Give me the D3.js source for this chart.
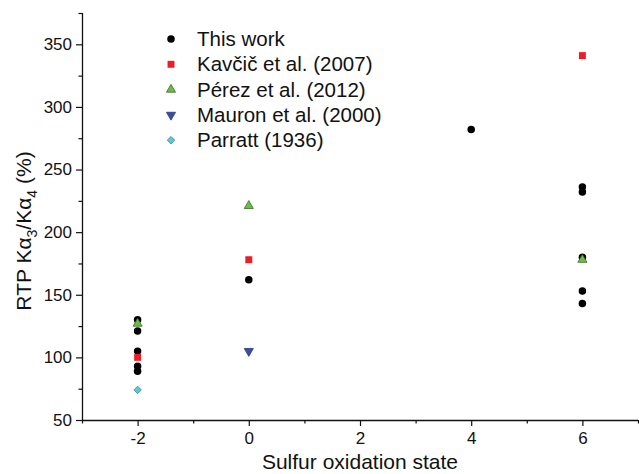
<!DOCTYPE html>
<html>
<head>
<meta charset="utf-8">
<script src="https://cdn.jsdelivr.net/npm/d3@7"></script>
<style>
  html, body { margin: 0; padding: 0; background: #fff; }
  svg { display: block; }
  text { font-family: "Liberation Sans", Arial, sans-serif; fill: #111; }
</style>
</head>
<body>
<svg id="chart" width="639" height="474"></svg>
<script>
// ---- data ----
const seriesNames = ["This work", "Kavčič et al. (2007)", "Pérez et al. (2012)", "Mauron et al. (2000)", "Parratt (1936)"];
const thisWorkX = [-2, -2, -2, -2, -2, 0, 4, 6, 6, 6, 6, 6];
const thisWorkY = [130, 121, 105, 93, 89, 162, 282, 236, 232, 180, 153, 143];
const kavcicX = [-2, 0, 6];
const kavcicY = [100, 178, 341];
const perezX = [-2, 0, 6];
const perezY = [127, 221, 178];
const mauronX = [0];
const mauronY = [105];
const parrattX = [-2];
const parrattY = [74];
const xMajorTicks = [-2, 0, 2, 4, 6];
const xMinorTicks = [-3, -1, 1, 3, 5, 7];
const yMajorTicks = [50, 100, 150, 200, 250, 300, 350];
const yMinorTicks = [75, 125, 175, 225, 275, 325, 375];

// ---- layout ----
const svg = d3.select("#chart");
const mLeft = 82, mRight = 638, mTop = 13, mBottom = 420;
const x = d3.scaleLinear().domain([-3, 7]).range([mLeft, mRight]);
const y = d3.scaleLinear().domain([50, 375]).range([mBottom, mTop]);

const styles = [
  { type: "circle", size: 44, fill: "#000", stroke: "none", rot: 0 },
  { type: "square", size: 48, fill: "#ee1d25", stroke: "none", rot: 0 },
  { type: "triangle", size: 36, fill: "#6dbd45", stroke: "#3d6b2c", rot: 0 },
  { type: "triangle", size: 36, fill: "#3a4ea2", stroke: "#2a3a80", rot: 180 },
  { type: "square", size: 28, fill: "#62c6d6", stroke: "#3a8a9a", rot: 45 }
];
const symType = { circle: d3.symbolCircle, square: d3.symbolSquare, triangle: d3.symbolTriangle };
function sym(s) { return d3.symbol().type(symType[s.type]).size(s.size)(); }
const fmt = d => String(d);

// ---- axes ----
const gx = svg.append("g").attr("transform", `translate(0,${mBottom})`);
gx.call(d3.axisBottom(x).tickValues(xMajorTicks).tickSize(6).tickPadding(6).tickFormat(fmt));
const gxm = svg.append("g").attr("transform", `translate(0,${mBottom})`);
gxm.call(d3.axisBottom(x).tickValues(xMinorTicks).tickSize(3.5).tickFormat(""));
gxm.select(".domain").remove();

const gy = svg.append("g").attr("transform", `translate(${mLeft},0)`);
gy.call(d3.axisLeft(y).tickValues(yMajorTicks).tickSize(6).tickPadding(4).tickFormat(fmt));
const gym = svg.append("g").attr("transform", `translate(${mLeft},0)`);
gym.call(d3.axisLeft(y).tickValues(yMinorTicks).tickSize(3.5).tickFormat(""));
gym.select(".domain").remove();

gx.select(".domain").attr("d", `M${mLeft},0.5H${mRight}`).attr("stroke", "#111").attr("stroke-width", 1.3);
gy.select(".domain").attr("d", `M0.5,${mBottom}V${mTop}`).attr("stroke", "#111").attr("stroke-width", 1.3);
svg.selectAll(".tick line").attr("stroke", "#111").attr("stroke-width", 1.2);
svg.selectAll(".tick text").style("font-size", "17px").style("font-family", '"Liberation Sans", Arial, sans-serif').attr("fill", "#111");

// ---- axis titles ----
svg.append("text").attr("x", (mLeft + mRight) / 2).attr("y", 469).attr("text-anchor", "middle")
  .style("font-size", "21px").text("Sulfur oxidation state");

const yt = svg.append("text").attr("transform", `translate(31,231) rotate(-90)`).attr("text-anchor", "middle")
  .style("font-size", "21px");
yt.append("tspan").text("RTP K\u03b1");
yt.append("tspan").attr("dy", 6).style("font-size", "14px").text("3");
yt.append("tspan").attr("dy", -6).text("/K\u03b1");
yt.append("tspan").attr("dy", 6).style("font-size", "14px").text("4");
yt.append("tspan").attr("dy", -6).text(" (%)");

// ---- points ----
const data = [
  [thisWorkX, thisWorkY], [kavcicX, kavcicY], [perezX, perezY], [mauronX, mauronY], [parrattX, parrattY]
];
data.forEach((d, i) => {
  const s = styles[i];
  const pts = d[0].map((xv, j) => ({ x: xv, y: d[1][j] }));
  svg.append("g").selectAll("path").data(pts).join("path")
    .attr("d", sym(s))
    .attr("transform", p => `translate(${x(p.x)},${y(p.y)}) rotate(${s.rot})`)
    .attr("fill", s.fill).attr("stroke", s.stroke).attr("stroke-width", 0.8);
});

// ---- legend ----
const lg = svg.append("g");
seriesNames.forEach((name, i) => {
  const s = styles[i];
  const cy = 39 + i * 25.3;
  lg.append("path").attr("d", sym(s)).attr("transform", `translate(171,${cy}) rotate(${s.rot})`)
    .attr("fill", s.fill).attr("stroke", s.stroke).attr("stroke-width", 0.8);
  lg.append("text").attr("x", 197).attr("y", cy + 7).style("font-size", "20.5px").text(name);
});
</script>
</body>
</html>
